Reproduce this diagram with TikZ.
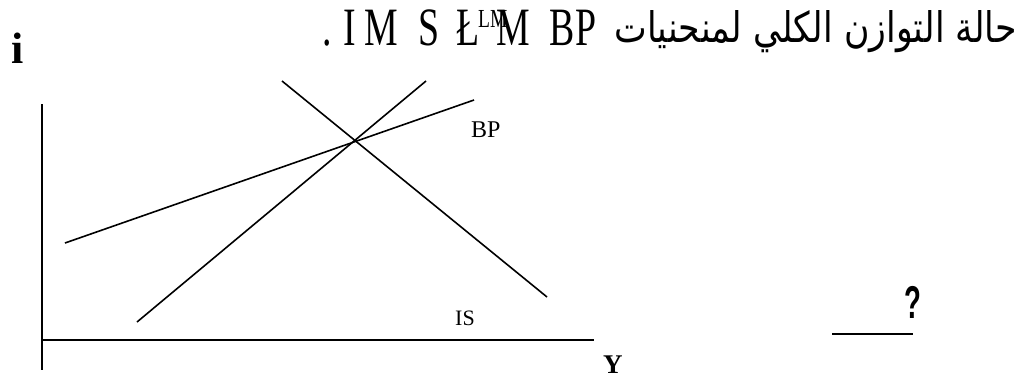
\documentclass[tikz,border=0pt]{standalone}
\usepackage{fontspec}
\setmainfont{Liberation Serif}
\newfontfamily\arabicfont[Script=Arabic]{DejaVu Sans}
\newfontfamily\qfont{Liberation Sans}
\newfontfamily\tfont{Liberation Serif}
\TeXXeTstate=1
\begin{document}
\begin{tikzpicture}[x=1pt,y=-1pt,
  curve/.style={line width=1.6pt},
  axis/.style={line width=1.8pt},
  lbl/.style={inner sep=0pt, anchor=base west},
  tl/.style={lbl, font=\tfont\fontsize{54}{54}\selectfont}]
\useasboundingbox (0,0) rectangle (1027,378);
% axes
\coordinate (yt) at (42,104);
\coordinate (yb) at (42,370);
\coordinate (xo) at (42,340);
\coordinate (xe) at (594,340);
\draw[axis] (yt) -- (yb);
\draw[axis] (xo) -- (xe);
% curves
\coordinate (bp1) at (65,243);
\coordinate (bp2) at (474,100);
\coordinate (lm1) at (137,322);
\coordinate (lm2) at (426,81);
\coordinate (is1) at (282,81);
\coordinate (is2) at (547,297);
\draw[curve] (bp1) -- (bp2);
\draw[curve] (lm1) -- (lm2);
\draw[curve] (is1) -- (is2);
% labels
\node[lbl, font=\fontsize{44}{44}\selectfont\bfseries] (li) at (11,63) {i};
\node[lbl, font=\fontsize{27}{27}\selectfont\bfseries] (ly) at (603,373) {Y};
\node[lbl, font=\fontsize{24}{24}\selectfont] (lbp) at (471,137) {BP};
\node[lbl, font=\fontsize{22}{22}\selectfont] (lis) at (455,325) {IS};
% question mark
\node[lbl, font=\fontsize{46}{46}\selectfont\qfont\bfseries] (q) at (904,318) {\scalebox{0.6}[1]{?}};
\coordinate (u1) at (832,334);
\coordinate (u2) at (913,334);
\draw[curve] (u1) -- (u2);
% title
\node[tl] (t0) at (322,45) {\scalebox{0.7}[1]{.}};
\node[tl] (t1) at (343,45) {\scalebox{0.7}[1]{I}};
\node[tl] (t2) at (364,45) {\scalebox{0.7}[1]{M}};
\node[tl] (t3) at (418,45) {\scalebox{0.7}[1]{S}};
\node[tl] (t4) at (456,45) {\scalebox{0.7}[1]{Ł}};
\node[lbl, font=\tfont\fontsize{26}{26}\selectfont] (t5) at (478,27) {\scalebox{0.75}[1]{LM}};
\node[tl] (t6) at (496,45) {\scalebox{0.7}[1]{M}};
\node[tl] (t7) at (549,45) {\scalebox{0.7}[1]{B}};
\node[tl] (t8) at (575,45) {\scalebox{0.7}[1]{P}};
\node[inner sep=0pt, anchor=base east] (ar) at (1017,42) {\resizebox{402pt}{32pt}{\arabicfont\beginR حالة التوازن الكلي لمنحنيات\endR}};
\end{tikzpicture}
\end{document}
